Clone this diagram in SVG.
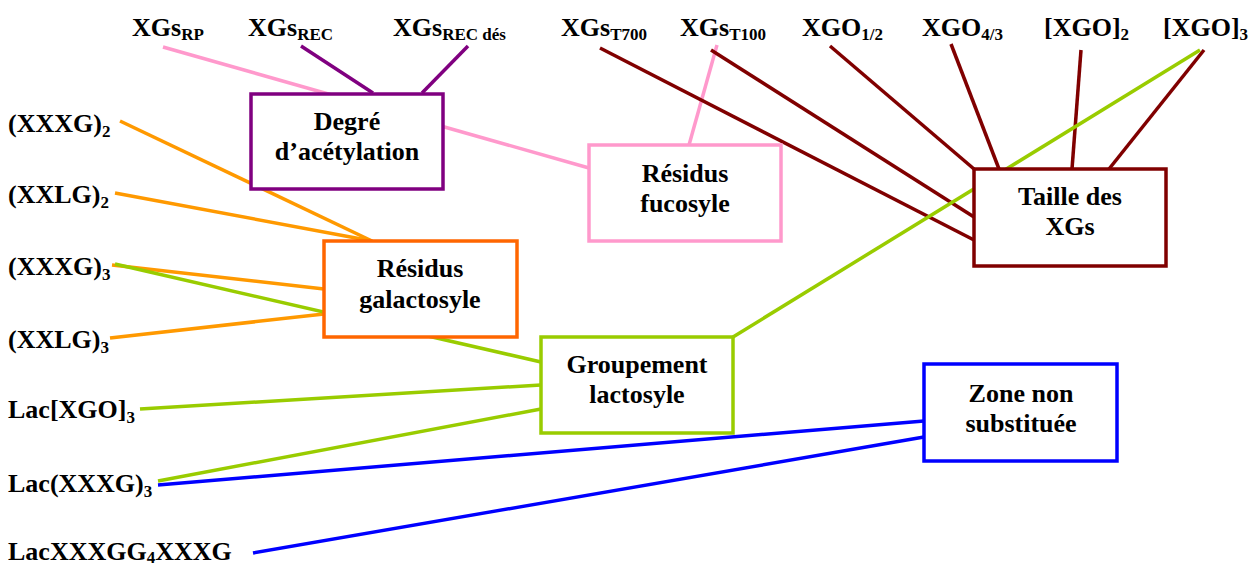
<svg xmlns="http://www.w3.org/2000/svg" width="1259" height="567" viewBox="0 0 1259 567">
<style>
text{font-family:"Liberation Serif","Times New Roman",serif;font-weight:bold;font-size:26px;fill:#000}
.s{font-size:17px}
.c{text-anchor:middle}
.box{fill:#fff;stroke-width:3.5}
line{stroke-width:3.5;fill:none}
.pk{stroke:#ff99cc}.pu{stroke:#800080}.dr{stroke:#800000}.gr{stroke:#99cc00}.bl{stroke:#0000ff}.or{stroke:#ff9900}
</style>
<rect width="1259" height="567" fill="#fff"/>
<g id="connectors">
<line class="pk" x1="163" y1="47" x2="589" y2="168"/>
<line class="pk" x1="717" y1="45" x2="689" y2="145"/>
<line class="pu" x1="301" y1="46" x2="373" y2="93"/>
<line class="pu" x1="468" y1="46" x2="422" y2="93"/>
<line class="dr" x1="600" y1="48" x2="974" y2="240"/>
<line class="dr" x1="711" y1="50" x2="974" y2="217"/>
<line class="dr" x1="830" y1="46" x2="974" y2="169"/>
<line class="dr" x1="951" y1="44" x2="999" y2="169"/>
<line class="dr" x1="1081" y1="50" x2="1072" y2="169"/>
<line class="dr" x1="1204" y1="50" x2="1109" y2="169"/>
<line class="gr" x1="1200" y1="50" x2="733" y2="337"/>
<line class="or" x1="120" y1="121" x2="372" y2="241"/>
<line class="or" x1="115" y1="193" x2="372" y2="241"/>
<line class="or" x1="112" y1="265" x2="324" y2="289"/>
<line class="or" x1="110" y1="338" x2="324" y2="314"/>
<line class="gr" x1="115" y1="264" x2="541" y2="362"/>
<line class="gr" x1="140" y1="409" x2="541" y2="385"/>
<line class="gr" x1="158" y1="481" x2="541" y2="409"/>
<line class="bl" x1="158" y1="485" x2="924" y2="421"/>
<line class="bl" x1="253" y1="553" x2="924" y2="437"/>
</g>
<g id="labels">
<text x="132" y="36">XGs<tspan class="s" dy="4">RP</tspan></text>
<text x="248" y="36">XGs<tspan class="s" dy="4">REC</tspan></text>
<text x="393" y="36">XGs<tspan class="s" dy="4">REC dés</tspan></text>
<text x="561" y="36">XGs<tspan class="s" dy="4">T700</tspan></text>
<text x="680" y="36">XGs<tspan class="s" dy="4">T100</tspan></text>
<text x="802" y="36">XGO<tspan class="s" dy="4">1/2</tspan></text>
<text x="922" y="36">XGO<tspan class="s" dy="4">4/3</tspan></text>
<text x="1044" y="36">[XGO]<tspan class="s" dy="4">2</tspan></text>
<text x="1163" y="36">[XGO]<tspan class="s" dy="4">3</tspan></text>
<text x="8" y="132">(XXXG)<tspan class="s" dy="5">2</tspan></text>
<text x="8" y="203">(XXLG)<tspan class="s" dy="5">2</tspan></text>
<text x="8" y="275">(XXXG)<tspan class="s" dy="5">3</tspan></text>
<text x="8" y="348">(XXLG)<tspan class="s" dy="5">3</tspan></text>
<text x="8" y="418">Lac[XGO]<tspan class="s" dy="5">3</tspan></text>
<text x="8" y="492">Lac(XXXG)<tspan class="s" dy="5">3</tspan></text>
<text x="8" y="560">LacXXXGG<tspan class="s" dy="3">4</tspan><tspan dy="-3">XXXG</tspan></text>
</g>
<g id="node-acetylation">
<rect class="box pu" x="251" y="94" width="192" height="95"/>
<text class="c" x="347" y="130">Degré</text>
<text class="c" x="347" y="160">d’acétylation</text>
</g>
<g id="node-fucosyle">
<rect class="box pk" x="589" y="145" width="192" height="96"/>
<text class="c" x="685" y="182">Résidus</text>
<text class="c" x="685" y="212">fucosyle</text>
</g>
<g id="node-taille">
<rect class="box dr" x="974" y="169" width="192" height="97"/>
<text class="c" x="1070" y="205">Taille des</text>
<text class="c" x="1070" y="235">XGs</text>
</g>
<g id="node-galactosyle">
<rect class="box" style="stroke:#ff6600" x="324" y="241" width="193" height="96"/>
<text class="c" x="420" y="277">Résidus</text>
<text class="c" x="420" y="308">galactosyle</text>
</g>
<g id="node-lactosyle">
<rect class="box gr" x="541" y="337" width="192" height="96"/>
<text class="c" x="637" y="373">Groupement</text>
<text class="c" x="637" y="403">lactosyle</text>
</g>
<g id="node-zone">
<rect class="box bl" x="924" y="364" width="193" height="97"/>
<text class="c" x="1021" y="402">Zone non</text>
<text class="c" x="1021" y="432">substituée</text>
</g>
</svg>
